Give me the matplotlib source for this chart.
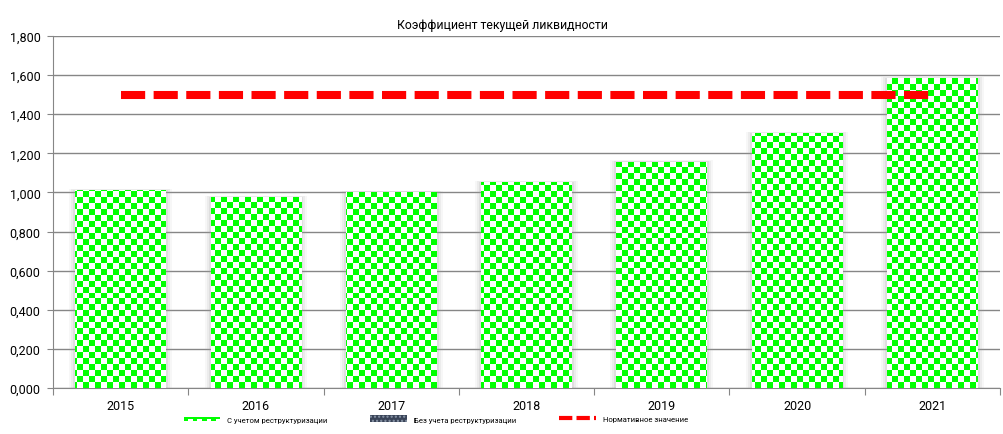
import numpy as np
import matplotlib
matplotlib.use("Agg")
import matplotlib.pyplot as plt
from matplotlib.patches import Rectangle, Patch
from matplotlib.lines import Line2D
from matplotlib.legend_handler import HandlerBase
from matplotlib.colors import ListedColormap

plt.rcParams['font.family'] = ['Roboto', 'DejaVu Sans']

# ---- data ----
title = "Коэффициент текущей ликвидности"
years = ["2015", "2016", "2017", "2018", "2019", "2020", "2021"]
with_restructuring = [1.012, 0.977, 1.002, 1.053, 1.158, 1.304, 1.585]
norm_value = [1.5, 1.5, 1.5, 1.5, 1.5, 1.5, 1.5]
series_names = ["С учетом реструктуризации", "Без учета реструктуризации", "Нормативное значение"]
y_ticks = [0.0, 0.2, 0.4, 0.6, 0.8, 1.0, 1.2, 1.4, 1.6, 1.8]

GREEN = "#00ff00"
GRID = "#868686"

fig = plt.figure(figsize=(10.04, 4.35), dpi=100)
ax = fig.add_axes([53/1004, 1-389/435, 947/1004, 352/435])

x = np.arange(len(years))

# checker texture
ny, nx = 59, 158
checker = (np.add.outer(np.arange(ny), np.arange(nx)) % 2).astype(float)
cmap = ListedColormap(["white", GREEN])

width = 0.67
# soft shadow
for xi, v in zip(x, with_restructuring):
    for k, a in [(0.045, 0.08), (0.03, 0.12), (0.015, 0.18)]:
        ax.add_patch(Rectangle((xi - width/2 - k, 0), width + 2*k, v + k*0.15,
                               facecolor="#a0a0a0", edgecolor="none", alpha=a, zorder=2))
bars = ax.bar(x, with_restructuring, width=width, color="none", edgecolor="none", zorder=3)
for b in bars:
    im = ax.imshow(checker, cmap=cmap, extent=(-0.5, len(years) - 0.5, 0, 1.8),
                   origin="lower", aspect="auto", interpolation="nearest", zorder=3)
    im.set_clip_path(b)
ax.set_xlim(-0.5, len(years) - 0.5)
ax.set_ylim(0, 1.8)

# norm line
ax.plot(x, norm_value, color="#ff0000", lw=5.8, dashes=(3, 1.05),
        solid_capstyle="butt", dash_capstyle="butt", zorder=4)

# axes styling
for s in ["top", "right"]:
    ax.spines[s].set_visible(False)
ax.spines["left"].set_color(GRID)
ax.spines["bottom"].set_color(GRID)
ax.set_yticks(y_ticks)
ax.set_yticklabels([f"{v:.3f}".replace(".", ",") for v in y_ticks], fontsize=9)
ax.yaxis.grid(True, color=GRID, lw=1)
ax.set_axisbelow(True)
ax.tick_params(axis="y", length=4, color=GRID, pad=5)
ax.set_xticks(np.arange(-0.5, len(years), 1.0))
ax.set_xticklabels([])
ax.tick_params(axis="x", which="major", length=5, color=GRID)
ax.set_xticks(x, minor=True)
ax.set_xticklabels(years, minor=True, fontsize=9)
ax.tick_params(axis="x", which="minor", length=0, pad=8)

fig.text(0.5, 1 - 25/435, title, ha="center", va="center", fontsize=8.8)


class CheckerHandler(HandlerBase):
    def create_artists(self, legend, orig_handle, xdescent, ydescent, width, height, fontsize, trans):
        y0 = -ydescent + height*0.2
        arts = [Rectangle((-xdescent, y0), width, height*0.55,
                          facecolor=GREEN, edgecolor="none", transform=trans)]
        n = 8
        w = width / n
        for i in range(n):
            if i % 2 == 1:
                arts.append(Rectangle((-xdescent + i*w, y0), w, height*0.3,
                                      facecolor="white", edgecolor="none", transform=trans))
        return arts


h1 = Patch(facecolor=GREEN)
h2 = Patch(facecolor="#3a4458", edgecolor="#8a96a8", hatch="....", lw=0)
h3 = Line2D([0], [0], color="#ff0000", lw=3.0, dashes=(3.2, 1.0), solid_capstyle="butt")
leg = fig.legend([h1, h2, h3], series_names, loc="center", bbox_to_anchor=(0.434, 1 - 420/435),
                 ncol=3, frameon=False, fontsize=5.5, handlelength=4.8, handleheight=1.0,
                 columnspacing=5.6, handletextpad=0.9,
                 handler_map={h1: CheckerHandler()})

fig.savefig("out.png", dpi=100)
